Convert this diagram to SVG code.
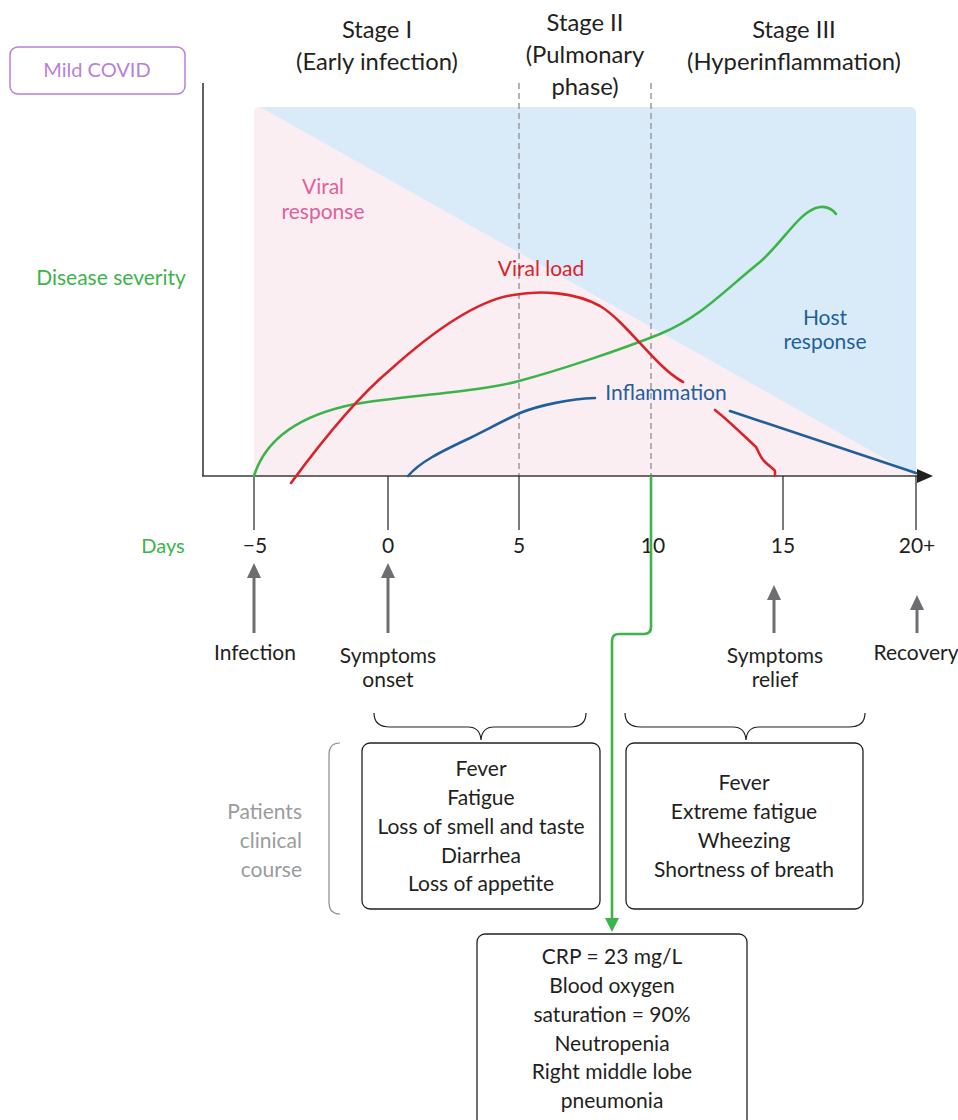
<svg xmlns="http://www.w3.org/2000/svg" width="958" height="1120" viewBox="0 0 958 1120">
<defs>
<style>
text{font-family:Lato,"Noto Sans","Liberation Sans",sans-serif;font-size:21px;fill:#231f20;text-anchor:middle}
.stage{font-size:23.8px}
.small{font-size:20px}
.green{fill:#3cb44a}.red{fill:#d8232a}.blue{fill:#1f5f9c}.pink{fill:#e0609a}.purple{fill:#b97fd9}.gray{fill:#9a9b9e;text-anchor:end}
.curve{fill:none;stroke-width:2.6;stroke-linecap:round;stroke-linejoin:round}
.box{fill:#fff;stroke:#231f20;stroke-width:1.3}
.dash{stroke:#9a9b9d;stroke-width:1.5;stroke-dasharray:6 4}
.axis{stroke:#3a3a3a;stroke-width:1.6;fill:none}
.tick{stroke:#231f20;stroke-width:1.2}
.garrow{stroke:#6d6e71;stroke-width:3}
</style>
</defs>
<rect width="958" height="1120" fill="#fff"/>

<g id="background">
<path d="M254,476 V113 Q254,107 260,107 H910 Q916,107 916,113 V476 Z" fill="#d9ebf8"/>
<path d="M254,476 V113 Q254,107 260,107 L916,476 Z" fill="#fbeef3"/>
</g>

<g id="stages">
<line class="dash" x1="519" y1="83" x2="519" y2="476"/>
<line class="dash" x1="651" y1="83" x2="651" y2="476"/>
<text class="stage" x="377" y="38">Stage I</text>
<text class="stage" x="377" y="70">(Early infection)</text>
<text class="stage" x="585" y="31">Stage II</text>
<text class="stage" x="585" y="63">(Pulmonary</text>
<text class="stage" x="585" y="95">phase)</text>
<text class="stage" x="794" y="38">Stage III</text>
<text class="stage" x="794" y="70">(Hyperinflammation)</text>
</g>

<g id="mild-covid">
<rect x="10" y="47" width="175" height="47" rx="8" fill="#fff" stroke="#b97fd9" stroke-width="1.5"/>
<text class="purple small" x="97" y="77">Mild COVID</text>
</g>

<g id="labels">
<text class="green" x="111" y="285">Disease severity</text>
<text class="green small" x="163" y="553">Days</text>
<text class="pink" x="323" y="194">Viral</text>
<text class="pink" x="323" y="219">response</text>
<text class="blue" x="825" y="325">Host</text>
<text class="blue" x="825" y="349">response</text>
<text class="red" x="541" y="276">Viral load</text>
<text class="blue" x="666" y="400">Inflammation</text>
</g>

<g id="axes">
<line class="axis" x1="203" y1="83" x2="203" y2="476"/>
<line class="axis" x1="202" y1="476" x2="918" y2="476"/>
<polygon points="917,469 933,476 917,483" fill="#231f20"/>
<line class="tick" x1="254" y1="476" x2="254" y2="530"/>
<line class="tick" x1="388" y1="476" x2="388" y2="530"/>
<line class="tick" x1="519" y1="476" x2="519" y2="530"/>
<line class="tick" x1="783" y1="476" x2="783" y2="530"/>
<line class="tick" x1="916" y1="476" x2="916" y2="530"/>
<text x="255" y="553">−5</text>
<text x="388" y="553">0</text>
<text x="519" y="553">5</text>
<text x="653" y="553">10</text>
<text x="783" y="553">15</text>
<text x="917" y="553">20+</text>
</g>

<g id="curves">
<path class="curve" stroke="#3cb44a" d="M254,476 C262,450 285,418 355,404 C400,396 480,392 519,381 C560,370 620,350 660,334 C700,318 725,290 760,262 C785,240 800,210 820,207 C828,206 833,210 836,214"/>
<path class="curve" stroke="#d8232a" d="M291,483 C330,430 360,395 390,370 C440,325 480,300 513,295 C540,290 575,292 600,306 C620,318 640,345 660,364 C668,372 676,378 683,382"/>
<path class="curve" stroke="#d8232a" d="M715,410 C728,420 745,437 756,447 C759,452 760,457 764,461 C770,467 774,469 775,471 L775,476"/>
<path class="curve" stroke="#1f5f9c" d="M408,476 C420,462 440,452 470,438 C490,428 505,420 520,413 C540,405 570,399 595,398"/>
<path class="curve" stroke="#1f5f9c" d="M730,411 L916,473"/>
</g>

<g id="events">
<line class="garrow" x1="254" y1="633" x2="254" y2="575"/>
<polygon points="247,578 254,563 261,578" fill="#6d6e71"/>
<line class="garrow" x1="388" y1="633" x2="388" y2="575"/>
<polygon points="381,578 388,563 395,578" fill="#6d6e71"/>
<line class="garrow" x1="774" y1="633" x2="774" y2="597"/>
<polygon points="767,600 774,585 781,600" fill="#6d6e71"/>
<line class="garrow" x1="917" y1="633" x2="917" y2="607"/>
<polygon points="910,610 917,595 924,610" fill="#6d6e71"/>
<text x="255" y="660">Infection</text>
<text x="388" y="663">Symptoms</text>
<text x="388" y="687">onset</text>
<text x="775" y="663">Symptoms</text>
<text x="775" y="687">relief</text>
<text x="916" y="660">Recovery</text>
</g>

<g id="connectors">
<path d="M651,476 V627 Q651,634 644,634 H619 Q612,634 612,641 V920" fill="none" stroke="#3cb44a" stroke-width="2.6"/>
<polygon points="605,918 612,932 619,918" fill="#3cb44a"/>
<path d="M374,713 Q374,727 390,727 H468 Q480,727 481,740 Q482,727 494,727 H570 Q586,727 586,713" fill="none" stroke="#231f20" stroke-width="1.2"/>
<path d="M625,713 Q625,727 641,727 H733 Q745,727 746,740 Q747,727 759,727 H849 Q865,727 865,713" fill="none" stroke="#231f20" stroke-width="1.2"/>
<path d="M340,743 Q329,743 329,755 V902 Q329,914 340,914" fill="none" stroke="#8a8b8d" stroke-width="1.2"/>
</g>

<g id="clinical-label">
<text class="gray" x="302" y="819">Patients</text>
<text class="gray" x="302" y="848">clinical</text>
<text class="gray" x="302" y="877">course</text>
</g>

<g id="early-symptoms">
<rect class="box" x="362" y="743" width="238" height="166" rx="8"/>
<text x="481" y="776">Fever</text>
<text x="481" y="805">Fatigue</text>
<text x="481" y="834">Loss of smell and taste</text>
<text x="481" y="863">Diarrhea</text>
<text x="481" y="891">Loss of appetite</text>
</g>

<g id="late-symptoms">
<rect class="box" x="626" y="743" width="237" height="166" rx="8"/>
<text x="744" y="790">Fever</text>
<text x="744" y="819">Extreme fatigue</text>
<text x="744" y="848">Wheezing</text>
<text x="744" y="877">Shortness of breath</text>
</g>

<g id="lab-findings">
<rect class="box" x="477" y="934" width="270" height="200" rx="8"/>
<text x="612" y="964">CRP = 23 mg/L</text>
<text x="612" y="993">Blood oxygen</text>
<text x="612" y="1022">saturation = 90%</text>
<text x="612" y="1051">Neutropenia</text>
<text x="612" y="1079">Right middle lobe</text>
<text x="612" y="1108">pneumonia</text>
</g>
</svg>
